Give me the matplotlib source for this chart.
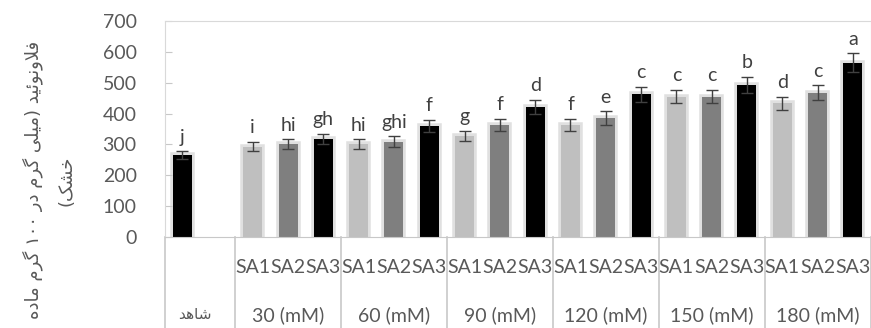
import re
import numpy as np
import matplotlib
matplotlib.use("Agg")
import matplotlib.pyplot as plt
import matplotlib.patheffects as pe

plt.rcParams['font.family'] = ['Lato', 'DejaVu Sans']

groups = ['30 (mM)', '60 (mM)', '90 (mM)', '120 (mM)', '150 (mM)', '180 (mM)']
sub_labels = ['SA1', 'SA2', 'SA3']
control_label = 'شاهد'
control_mean = 266
control_err = 12
control_letter = 'j'
sa1 = [293, 301, 327, 363, 455, 433]
sa2 = [301, 309, 363, 385, 455, 468]
sa3 = [319, 360, 422, 463, 493, 565]
err1 = [15, 16, 17, 20, 22, 22]
err2 = [15, 17, 20, 23, 22, 23]
err3 = [16, 20, 22, 24, 26, 30]
let1 = ['i', 'hi', 'g', 'f', 'c', 'd']
let2 = ['hi', 'ghi', 'f', 'e', 'c', 'c']
let3 = ['gh', 'f', 'd', 'c', 'b', 'a']
ylabel_lines = ['فلاونوئید (میلی گرم در ۱۰۰ گرم ماده', 'خشک)']

# minimal arabic shaping (matplotlib has no complex text layout)
FORMS = {
    'ا': ('\uFE8D', '\uFE8E', None, None),
    'د': ('\uFEA9', '\uFEAA', None, None),
    'ر': ('\uFEAD', '\uFEAE', None, None),
    'و': ('\uFEED', '\uFEEE', None, None),
    'ف': ('\uFED1', '\uFED2', '\uFED3', '\uFED4'),
    'ل': ('\uFEDD', '\uFEDE', '\uFEDF', '\uFEE0'),
    'ن': ('\uFEE5', '\uFEE6', '\uFEE7', '\uFEE8'),
    'ئ': ('\uFE89', '\uFE8A', '\uFE8B', '\uFE8C'),
    'ی': ('\uFBFC', '\uFBFD', '\uFBFE', '\uFBFF'),
    'م': ('\uFEE1', '\uFEE2', '\uFEE3', '\uFEE4'),
    'گ': ('\uFB92', '\uFB93', '\uFB94', '\uFB95'),
    'ه': ('\uFEE9', '\uFEEA', '\uFEEB', '\uFEEC'),
    'خ': ('\uFEA5', '\uFEA6', '\uFEA7', '\uFEA8'),
    'ش': ('\uFEB5', '\uFEB6', '\uFEB7', '\uFEB8'),
    'ک': ('\uFB8E', '\uFB8F', '\uFB90', '\uFB91'),
}


def dual(c):
    return c in FORMS and FORMS[c][2] is not None


def shape(text):
    out = []
    i = 0
    while i < len(text):
        c = text[i]
        prev = text[i - 1] if i > 0 else ''
        joins_prev = c in FORMS and dual(prev)
        if c == 'ل' and i + 1 < len(text) and text[i + 1] == 'ا':
            out.append('\uFEFC' if joins_prev else '\uFEFB')
            i += 2
            continue
        if c not in FORMS:
            out.append(c)
            i += 1
            continue
        nxt = text[i + 1] if i + 1 < len(text) else ''
        joins_next = dual(c) and nxt in FORMS
        iso, fin, ini, med = FORMS[c]
        if joins_prev and joins_next:
            out.append(med)
        elif joins_prev:
            out.append(fin)
        elif joins_next:
            out.append(ini)
        else:
            out.append(iso)
        i += 1
    return ''.join(out)


def visual(text):
    s = shape(text)[::-1]
    s = s.translate(str.maketrans('()', ')('))
    s = re.sub('[۰-۹0-9]+', lambda m: m.group(0)[::-1], s)
    return s


fig = plt.figure(figsize=(8.71, 3.28), dpi=100)
ax = fig.add_axes([164.5 / 871, (328 - 237) / 328, 706 / 871, 216 / 328])

colors = ['#bfbfbf', '#7f7f7f', '#000000']
txt_col = '#595959'
line_col = '#c8c8c8'
w = 0.54
glow = [pe.Stroke(linewidth=4, foreground='#000000', alpha=0.12), pe.Normal()]

ekw = dict(ecolor='#404040', elinewidth=1, capsize=4.5, capthick=1)

bars = ax.bar([0], [control_mean], w, color='#000000', yerr=[control_err], error_kw=ekw)
for b in bars:
    b.set_path_effects(glow)
ax.annotate(control_letter, (0, control_mean + control_err), xytext=(0, 4),
            textcoords='offset points', ha='center', va='bottom', fontsize=14, color='#404040')

for k, (vals, errs, lets) in enumerate([(sa1, err1, let1), (sa2, err2, let2), (sa3, err3, let3)]):
    xs = 2 + np.arange(len(groups)) * 3 + k
    bars = ax.bar(xs, vals, w, color=colors[k], yerr=errs, error_kw=ekw)
    for b in bars:
        b.set_path_effects(glow)
    for x, v, e, l in zip(xs, vals, errs, lets):
        ax.annotate(l, (x, v + e), xytext=(0, 4), textcoords='offset points',
                    ha='center', va='bottom', fontsize=14, color='#404040')

ax.set_xlim(-0.5, 19.5)
ax.set_ylim(0, 700)
ax.set_yticks(range(0, 701, 100))
ax.tick_params(axis='y', direction='in', length=5, color=line_col, labelsize=14,
               labelcolor=txt_col, pad=20)
ax.set_xticks([])
for s in ['left', 'top', 'right']:
    ax.spines[s].set_color('#d9d9d9')
ax.spines['bottom'].set_color(line_col)

# category table under the axis
trans = ax.get_xaxis_transform()
for xb in [-0.5, 1.5, 4.5, 7.5, 10.5, 13.5, 16.5, 19.5]:
    ax.plot([xb, xb], [0, -0.45], color=line_col, lw=1.2, transform=trans, clip_on=False)
for g in range(len(groups)):
    for k, sl in enumerate(sub_labels):
        ax.text(2 + g * 3 + k, -0.139, sl, transform=trans, ha='center', va='center',
                fontsize=14, color=txt_col)
    ax.text(3 + g * 3, -0.36, groups[g], transform=trans, ha='center', va='center',
            fontsize=14, color=txt_col)
ax.text(0.35, -0.36, visual(control_label), transform=trans, ha='center', va='center',
        fontsize=11, color=txt_col, family='DejaVu Sans')

fig.text(0.056, 0.45, '\n'.join(visual(t) for t in ylabel_lines), rotation=90,
         ha='center', va='center', multialignment='center', fontsize=13,
         color=txt_col, family='DejaVu Sans', linespacing=2.0)

fig.savefig('out.png', dpi=100)
